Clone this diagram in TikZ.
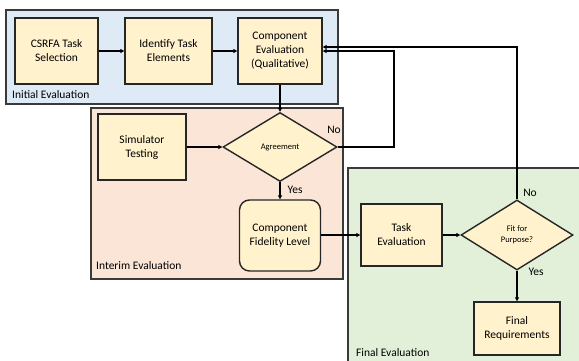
\documentclass[tikz,border=0pt]{standalone}
\usepackage{fontspec}
\setmainfont{Carlito}
\usetikzlibrary{shapes.geometric,arrows.meta}
\definecolor{nodefill}{HTML}{FFF2CC}
\definecolor{bluefill}{HTML}{DEEBF7}
\definecolor{salmonfill}{HTML}{FBE5D6}
\definecolor{greenfill}{HTML}{E2F0D9}
\definecolor{edgecol}{HTML}{262626}
\definecolor{framecol}{HTML}{3A3A3A}
\tikzset{
  stepbox/.style={draw=edgecol, line width=1.4pt, fill=nodefill, align=center, inner sep=0pt,
    font=\fontsize{11.5}{14}\selectfont},
  decision/.style={diamond, draw=edgecol, line width=1.4pt, fill=nodefill, align=center, inner sep=0pt,
    minimum width=114pt, minimum height=69pt, font=\fontsize{8.5}{11}\selectfont},
  frame/.style={draw=framecol, line width=1.2pt},
  lbl/.style={font=\fontsize{11.5}{14}\selectfont, inner sep=0pt},
  conn/.style={line width=1.3pt, -{Triangle[length=4pt,width=4pt]}},
}
\begin{document}
\begin{tikzpicture}[x=1pt,y=-1pt]
\clip (0,0) rectangle (579,360);
\fill[white] (0,0) rectangle (579,360);
% containers
\draw[frame, fill=bluefill] (6,10) rectangle (338,104);
\draw[frame, fill=salmonfill] (91,108) rectangle (343,279);
\draw[frame, fill=greenfill] (348,168) rectangle (590,370);
\node[lbl, anchor=west] (lInit) at (12,95) {Initial Evaluation};
\node[lbl, anchor=west] (lInter) at (96,266) {Interim Evaluation};
\node[lbl, anchor=west] (lFinal) at (356,353) {Final Evaluation};
% nodes
\node[stepbox, minimum width=83pt, minimum height=66pt] (csrfa) at (56.5,51) {CSRFA Task\\Selection};
\node[stepbox, minimum width=87pt, minimum height=66pt] (ident) at (168.5,51) {Identify Task\\Elements};
\node[stepbox, minimum width=84pt, minimum height=66pt] (comp) at (280,51) {Component\\Evaluation\\(Qualitative)};
\node[stepbox, minimum width=88pt, minimum height=66pt] (sim) at (142,147) {Simulator\\Testing};
\node[decision] (agree) at (280,147) {Agreement};
\node[stepbox, rounded corners=10pt, minimum width=81pt, minimum height=71pt] (fid) at (280,235.5) {Component\\Fidelity Level};
\node[stepbox, minimum width=81pt, minimum height=62pt] (task) at (401.5,235) {Task\\Evaluation};
\node[decision, minimum width=112pt, minimum height=70pt] (fit) at (517,235) {Fit for\\Purpose?};
\node[stepbox, minimum width=86pt, minimum height=53pt] (final) at (517,328.5) {Final\\Requirements};
% labels
\node[lbl] (noA) at (334,130) {No};
\node[lbl] (yesA) at (295,190) {Yes};
\node[lbl] (noF) at (530,193) {No};
\node[lbl] (yesF) at (536,272) {Yes};
% connectors
\coordinate (cmpLow) at (comp.east |- 0,51);
\coordinate (cmpHigh) at (comp.east |- 0,47);
\coordinate (loopA) at (394,147);
\coordinate (loopAtop) at (394,51);
\coordinate (loopF) at (517,47);
\draw[conn] (csrfa) -- (ident);
\draw[conn] (ident) -- (comp);
\draw[conn] (comp.south) -- (agree.north);
\draw[conn] (sim.east |- agree.west) -- (agree.west);
\draw[conn] (agree.south) -- (fid.north);
\draw[conn] (agree.east) -- (loopA) -- (loopAtop) -- (cmpLow);
\draw[conn] (fit.north) -- (loopF) -- (cmpHigh);
\draw[conn] (fid.east |- task.west) -- (task.west);
\draw[conn] (task.east) -- (fit.west);
\draw[conn] (fit.south) -- (final.north);
\end{tikzpicture}
\end{document}
